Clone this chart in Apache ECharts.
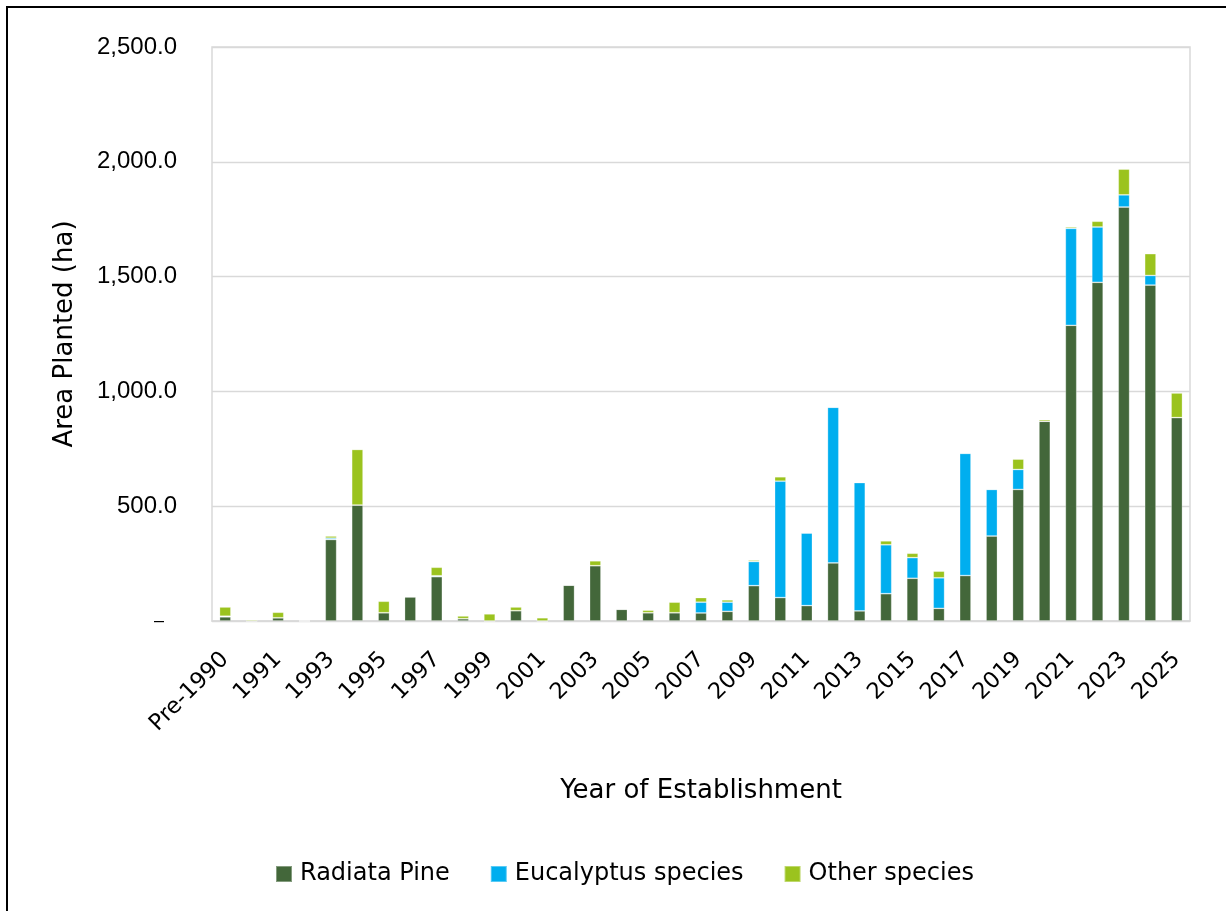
<!DOCTYPE html>
<html>
<head>
<meta charset="utf-8">
<script src="https://cdn.jsdelivr.net/npm/echarts@6/dist/echarts.min.js"></script>
<style>
  html, body { margin: 0; padding: 0; background: #ffffff; }
  #chart { width: 1226px; height: 911px; }
</style>
</head>
<body>
<div id="chart"></div>
<script>
// Year of establishment categories
const years = ['Pre-1990', '1990', '1991', '1992', '1993', '1994', '1995', '1996', '1997', '1998',
  '1999', '2000', '2001', '2002', '2003', '2004', '2005', '2006', '2007', '2008',
  '2009', '2010', '2011', '2012', '2013', '2014', '2015', '2016', '2017', '2018',
  '2019', '2020', '2021', '2022', '2023', '2024', '2025'];

// Area planted (ha) by species group
const radiataPine = [18, 0, 14, 0, 355, 505, 36, 105, 193, 10,
  0, 45, 0, 156, 241, 51, 36, 36, 35, 42,
  154, 102, 67, 253, 44, 119, 186, 55, 198, 370,
  573, 870, 1288, 1475, 1803, 1463, 886];
const eucalyptus = [3, 0, 0, 0, 6, 0, 0, 0, 4, 0,
  0, 0, 0, 0, 0, 0, 0, 0, 47, 40,
  105, 507, 316, 678, 559, 213, 90, 133, 532, 203,
  87, 0, 422, 241, 53, 42, 0];
const otherSpecies = [40, 5, 24, 0, 9, 242, 50, 3, 37, 12,
  31, 16, 14, 0, 21, 1, 11, 46, 20, 10,
  6, 19, 2, 0, 0, 17, 19, 29, 0, 0,
  45, 7, 6, 25, 112, 95, 107];

const seriesNames = ['Radiata Pine', 'Eucalyptus species', 'Other species'];
const seriesColors = ['#43673a', '#00aeef', '#9bc31e'];

const sansFont = 'DejaVu Sans';
const axisFont = 'Liberation Sans';

const chart = echarts.init(document.getElementById('chart'), null, { renderer: 'canvas' });

function fmt(v) {
  return v.toLocaleString('en-US', { minimumFractionDigits: 1, maximumFractionDigits: 1 });
}

const seriesData = [radiataPine, eucalyptus, otherSpecies];

chart.setOption({
  backgroundColor: '#ffffff',
  animation: false,
  graphic: [{
    type: 'rect',
    shape: { x: 7, y: 7, width: 1260, height: 960 },
    style: { fill: 'none', stroke: '#000000', lineWidth: 2 },
    silent: true
  }],
  grid: {
    left: 212, right: 36, top: 47, bottom: 290,
    show: true, borderColor: '#d9d9d9', borderWidth: 1.5
  },
  legend: {
    left: 275, top: 862, padding: 0,
    itemWidth: 16, itemHeight: 16, itemGap: 40,
    icon: 'rect',
    textStyle: { fontFamily: sansFont, fontSize: 24, color: '#000000', padding: [0, 0, 0, 3] },
    data: seriesNames
  },
  xAxis: {
    type: 'category',
    data: years,
    name: 'Year of Establishment',
    nameLocation: 'middle',
    nameGap: 157,
    nameTextStyle: { fontFamily: sansFont, fontSize: 26, color: '#000000' },
    axisLine: { show: true, lineStyle: { color: '#d9d9d9', width: 1.5 } },
    axisTick: { show: false },
    axisLabel: {
      interval: 1,
      rotate: 45,
      margin: 35,
      fontFamily: sansFont,
      fontSize: 22.5,
      color: '#000000'
    }
  },
  yAxis: {
    type: 'value',
    min: 0, max: 2500, interval: 500,
    name: 'Area Planted (ha)',
    nameLocation: 'middle',
    nameGap: 134,
    nameTextStyle: { fontFamily: sansFont, fontSize: 26, color: '#000000' },
    axisLine: { show: false },
    axisTick: { show: false },
    splitLine: { lineStyle: { color: '#d9d9d9', width: 1.3 } },
    axisLabel: {
      margin: 35,
      fontFamily: axisFont,
      fontSize: 24,
      color: '#000000',
      formatter: function (v) { return v === 0 ? '{z|–}' : fmt(v); },
      rich: { z: { fontFamily: axisFont, fontSize: 18, color: '#000000', padding: [0, 13, 0, 0] } }
    }
  },
  series: seriesNames.map(function (name, i) {
    return {
      name: name,
      type: 'bar',
      stack: 'area',
      barWidth: '43%',
      data: seriesData[i],
      itemStyle: {
        color: seriesColors[i],
        borderColor: 'rgba(255,255,255,0.35)',
        borderWidth: 0.8
      }
    };
  })
});
</script>
</body>
</html>
